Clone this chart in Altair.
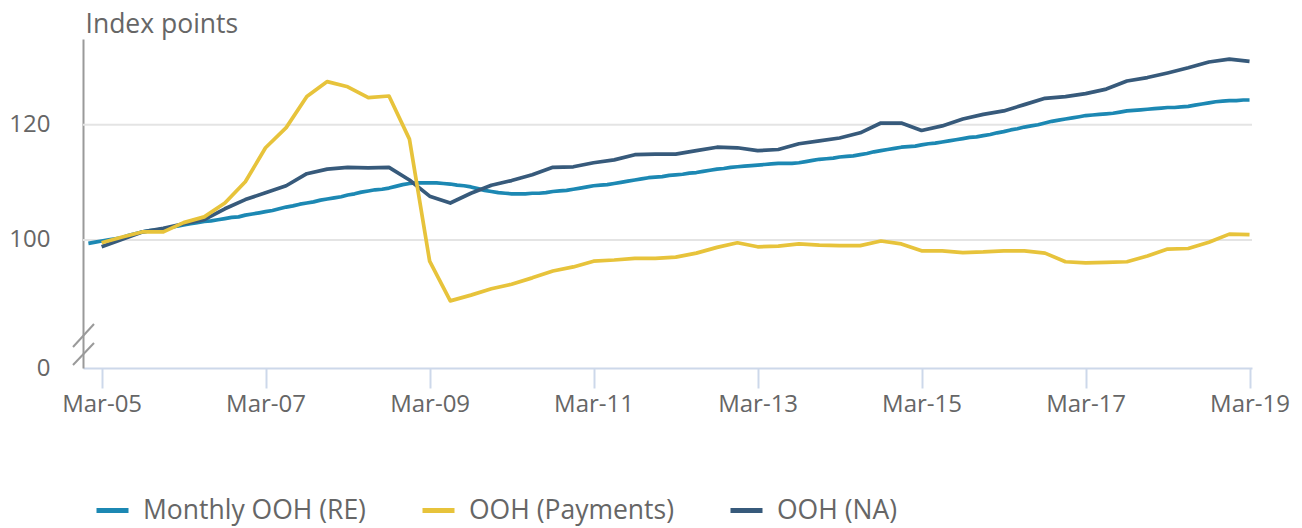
import altair as alt
import pandas as pd

# ---- data ----
series_names = ["Monthly OOH (RE)", "OOH (Payments)", "OOH (NA)"]
series_colors = ["#1c88b3", "#e7c33b", "#375a7b"]

# Monthly OOH (RE): monthly, Jan-05 .. Mar-19
re_start = "2005-01-01"
re_values = [
    99.4, 99.6, 99.8, 100.0, 100.2, 100.4, 100.8, 101.1, 101.4, 101.6, 101.7, 101.9,   # 2005
    102.1, 102.4, 102.6, 102.8, 103.0, 103.2, 103.3, 103.5, 103.7, 103.9, 104.0, 104.3, # 2006
    104.5, 104.7, 104.9, 105.1, 105.4, 105.7, 105.9, 106.2, 106.4, 106.6, 106.9, 107.1, # 2007
    107.3, 107.5, 107.8, 108.0, 108.3, 108.5, 108.7, 108.8, 109.0, 109.3, 109.6, 109.8, # 2008
    109.9, 109.9, 109.9, 109.9, 109.8, 109.7, 109.5, 109.4, 109.2, 108.9, 108.6, 108.4, # 2009
    108.2, 108.1, 108.0, 108.0, 108.0, 108.1, 108.1, 108.2, 108.4, 108.5, 108.6, 108.8, # 2010
    109.0, 109.2, 109.4, 109.5, 109.6, 109.8, 110.0, 110.2, 110.4, 110.6, 110.8, 110.9, # 2011
    111.0, 111.2, 111.3, 111.4, 111.6, 111.7, 111.9, 112.1, 112.3, 112.4, 112.6, 112.7, # 2012
    112.8, 112.9, 113.0, 113.1, 113.2, 113.3, 113.3, 113.3, 113.4, 113.6, 113.8, 114.0, # 2013
    114.1, 114.2, 114.4, 114.5, 114.6, 114.8, 115.0, 115.3, 115.5, 115.7, 115.9, 116.1, # 2014
    116.2, 116.3, 116.5, 116.7, 116.8, 117.0, 117.2, 117.4, 117.6, 117.8, 117.9, 118.1, # 2015
    118.3, 118.6, 118.8, 119.1, 119.3, 119.6, 119.8, 120.0, 120.3, 120.6, 120.8, 121.0, # 2016
    121.2, 121.4, 121.6, 121.7, 121.8, 121.9, 122.0, 122.2, 122.4, 122.5, 122.6, 122.7, # 2017
    122.8, 122.9, 123.0, 123.0, 123.1, 123.2, 123.4, 123.6, 123.8, 124.0, 124.1, 124.2, # 2018
    124.2, 124.3, 124.3,                                                                 # 2019
]

# OOH (Payments) and OOH (NA): quarterly, Mar-05 .. Mar-19
q_start = "2005-03-01"
payments_values = [
    99.5, 100.5, 101.4, 101.4, 103.0, 104.0, 106.4, 110.1, 116.0, 119.5,
    124.9, 127.5, 126.6, 124.7, 125.0, 117.5, 96.3, 89.4, 90.4, 91.5,
    92.3, 93.4, 94.6, 95.3, 96.3, 96.5, 96.8, 96.8, 97.0, 97.7,
    98.7, 99.5, 98.8, 98.9, 99.3, 99.1, 99.0, 99.0, 99.8, 99.3,
    98.1, 98.1, 97.8, 97.9, 98.1, 98.1, 97.7, 96.2, 96.0, 96.1,
    96.2, 97.2, 98.4, 98.5, 99.6, 101.0, 100.9,
]
na_values = [
    98.8, 100.1, 101.4, 102.0, 102.8, 103.5, 105.4, 107.0, 108.2, 109.4,
    111.5, 112.3, 112.6, 112.5, 112.6, 110.4, 107.6, 106.4, 108.1, 109.5,
    110.3, 111.3, 112.6, 112.7, 113.4, 113.9, 114.8, 114.9, 114.9, 115.5,
    116.1, 116.0, 115.5, 115.7, 116.7, 117.2, 117.7, 118.6, 120.3, 120.3,
    119.0, 119.8, 121.0, 121.8, 122.4, 123.5, 124.6, 124.9, 125.4, 126.2,
    127.6, 128.2, 129.0, 129.9, 130.9, 131.4, 131.0,
]

grid_values = [100, 120]
y_axis_bottom = 77.74   # shown as "0" (broken axis)
y_axis_top = 134.9
tick_years = [2005, 2007, 2009, 2011, 2013, 2015, 2017, 2019]

# ---- build table ----
re_dates = pd.date_range(re_start, periods=len(re_values), freq="MS")
q_dates = pd.date_range(q_start, periods=len(payments_values), freq="3MS")
df = pd.concat([
    pd.DataFrame({"date": re_dates, "value": re_values, "series": series_names[0], "ord": 0}),
    pd.DataFrame({"date": q_dates, "value": na_values, "series": series_names[2], "ord": 1}),
    pd.DataFrame({"date": q_dates, "value": payments_values, "series": series_names[1], "ord": 2}),
])
df["date"] = df["date"].dt.strftime("%Y-%m-%dT00:00:00")

FONT = "Open Sans"
TXT = "#666666"

x_scale = alt.Scale(domain=[alt.DateTime(year=2004, month=12, date=8),
                            alt.DateTime(year=2019, month=3, date=12)])
y_scale = alt.Scale(domain=[y_axis_bottom, y_axis_top], nice=False, zero=False)

lines = alt.Chart(df).mark_line(strokeWidth=3.7, strokeJoin="round").encode(
    x=alt.X("date:T", scale=x_scale,
            axis=alt.Axis(values=[alt.DateTime(year=y, month=3, date=1) for y in tick_years],
                          format="%b-%y", title=None, grid=False,
                          domainColor="#cdd8ea", domainWidth=2,
                          tickColor="#cdd8ea", tickWidth=2, tickSize=20,
                          labelPadding=4, labelFontSize=24, labelColor=TXT, labelFont=FONT,
                          labelFlush=False, labelOverlap=False)),
    y=alt.Y("value:Q", scale=y_scale,
            axis=alt.Axis(values=[y_axis_bottom] + grid_values,
                          labelExpr="datum.value < 90 ? '0' : datum.label",
                          grid=False, ticks=False, domainColor="#9a9a9a", domainWidth=2,
                          labelPadding=33, labelFontSize=24, labelColor=TXT, labelFont=FONT,
                          labelFlush=False, labelOverlap=False,
                          title="Index points", titleAngle=0, titleX=2, titleY=-7,
                          titleAlign="left", titleBaseline="alphabetic",
                          titleFontSize=26.5, titleFontWeight="normal", titleColor=TXT, titleFont=FONT)),
    color=alt.Color("series:N",
                    scale=alt.Scale(domain=series_names, range=series_colors),
                    legend=alt.Legend(title=None, orient="none", legendX=11, legendY=453,
                                      direction="horizontal", symbolType="stroke",
                                      symbolSize=1024, symbolStrokeWidth=5,
                                      labelFontSize=26.5, labelFont=FONT, labelColor=TXT,
                                      labelLimit=0, labelOffset=12, columnPadding=46)),
    order=alt.Order("ord:Q"),
    detail="series:N",
)

grid = alt.Chart(pd.DataFrame({"g": grid_values})).mark_rule(
    color="#e4e4e4", strokeWidth=2).encode(y=alt.Y("g:Q", scale=y_scale))

brk1 = alt.Chart(pd.DataFrame({"k": [0]})).mark_rule(color="#9a9a9a", strokeWidth=2).encode(
    x=alt.value(-10), x2=alt.value(11), y=alt.value(308), y2=alt.value(285))
brk2 = alt.Chart(pd.DataFrame({"k": [0]})).mark_rule(color="#9a9a9a", strokeWidth=2).encode(
    x=alt.value(-10), x2=alt.value(11), y=alt.value(326), y2=alt.value(304))

chart = alt.layer(grid, lines, brk1, brk2).properties(
    width=1169, height=329,
    autosize=alt.AutoSizeParams(type="none"),
    padding={"left": 83, "top": 39, "right": 50, "bottom": 160},
).configure(background="white").configure_view(stroke=None, strokeWidth=0)

chart.save("out.html", embed_options={"renderer": "svg", "actions": False})
